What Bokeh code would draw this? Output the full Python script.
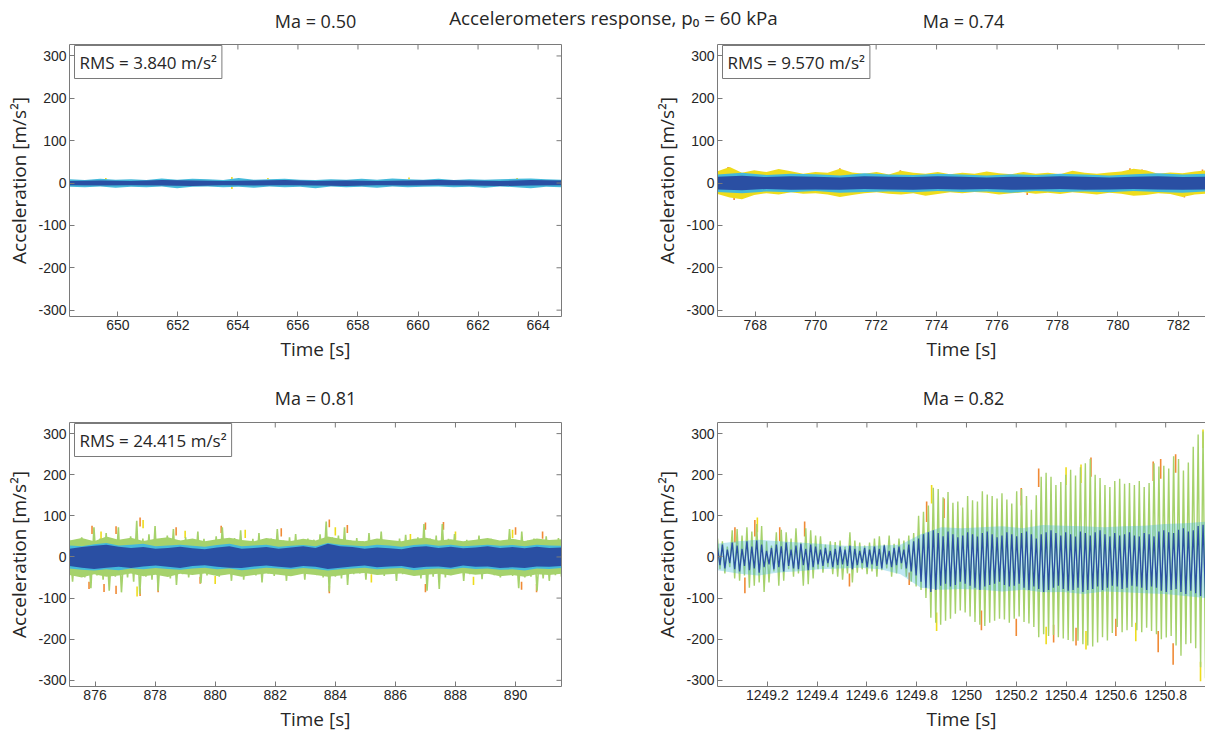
import numpy as np
from bokeh.plotting import figure
from bokeh.layouts import column, row
from bokeh.models import Range1d, LinearAxis, Label, FixedTicker
from bokeh.core.properties import value
from bokeh.embed import file_html
from bokeh.resources import INLINE

# ------------------------------------------------------------------ text
MAIN_TITLE = "Accelerometers response, p\u2080 = 60 kPa"
PANEL_TITLES = ["Ma = 0.50", "Ma = 0.74", "Ma = 0.81", "Ma = 0.82"]
RMS_TEXT = ["RMS = 3.840 m/s\u00b2", "RMS = 9.570 m/s\u00b2", "RMS = 24.415 m/s\u00b2"]
X_LABEL = "Time [s]"
Y_LABEL = "Acceleration [m/s\u00b2]"

Y_LIMITS = (-315, 327)
Y_TICKS = [-300, -200, -100, 0, 100, 200, 300]
Y_TICK_LABELS = ["-300", "-200", "-100", "0", "100", "200", "300"]

# ------------------------------------------------------------------ Ma = 0.50
T_050 = (648.39, 664.78)
X_TICKS_050 = [650, 652, 654, 656, 658, 660, 662, 664]
OUTER_HI_050 = [9, 7, 10, 8, 9, 7, 11, 8, 10, 9, 7, 12, 8, 9, 10, 8, 7, 9, 8, 10, 8, 11, 9, 8, 10, 7, 9, 8, 9, 10, 11, 9, 8]
OUTER_LO_050 = [-9, -10, -8, -11, -9, -10, -8, -12, -9, -8, -10, -9, -11, -8, -10, -9, -12, -8, -10, -9, -11, -8, -10, -9, -8, -10, -9, -11, -8, -10, -12, -9, -10]
CORE_HI_050 = [5, 6, 5, 7, 6, 5, 6, 7, 5, 6, 5, 6, 7, 6, 5, 7, 6]
CORE_LO_050 = [-5, -6, -5, -6, -7, -5, -6, -5, -6, -7, -5, -6, -5, -6, -7, -6, -5]
TIP_T_050 = [649.6, 653.8, 653.8, 655.0, 659.7, 663.3]
TIP_Y0_050 = [8, 9, -9, 9, 9, 9]
TIP_Y1_050 = [12, 14, -14, 12, 13, 12]

# ------------------------------------------------------------------ Ma = 0.74
T_074 = (766.75, 782.95)
X_TICKS_074 = [768, 770, 772, 774, 776, 778, 780, 782]
OUTER_HI_074 = [28, 38, 24, 30, 26, 33, 28, 22, 26, 24, 34, 25, 22, 26, 20, 29, 24, 22, 26, 21, 24,
                22, 27, 23, 21, 26, 22, 24, 21, 29, 24, 22, 25, 27, 34, 30, 22, 25, 23, 27, 30]
OUTER_LO_074 = [-26, -34, -38, -28, -24, -27, -22, -25, -24, -27, -33, -28, -24, -22, -25, -27, -24, -30, -26, -22, -24,
                -21, -23, -27, -24, -22, -25, -23, -26, -22, -24, -27, -23, -25, -30, -28, -24, -26, -33, -27, -25]
MID_HI_074 = [20, 24, 19, 22, 21, 18, 23, 20, 19, 22, 20, 18, 21, 19, 22, 20, 18, 21, 23, 20, 22]
MID_LO_074 = [-21, -24, -20, -22, -19, -23, -21, -20, -22, -19, -21, -20, -23, -19, -21, -20, -22, -19, -21, -23, -20]
CORE_HI_074 = [15, 17, 14, 16, 15, 13, 16, 15, 14, 16, 15, 13, 15, 14, 16, 15, 13, 15, 16, 14, 15]
CORE_LO_074 = [-15, -17, -14, -16, -15, -16, -14, -15, -16, -14, -15, -14, -16, -15, -14, -16, -15, -14, -15, -16, -15]
TIP_T_074 = [767.1, 767.3, 770.8, 772.8, 777.0, 780.4, 780.8, 782.2, 782.8]
TIP_Y0_074 = [30, -30, 28, 24, -22, 28, 26, -27, 26]
TIP_Y1_074 = [38, -40, 35, 30, -28, 35, 32, -34, 32]

# ------------------------------------------------------------------ Ma = 0.81
T_081 = (875.15, 891.53)
X_TICKS_081 = [876, 878, 880, 882, 884, 886, 888, 890]
# peak / trough of each burst of the outer channels
OUTER_HI_081 = [42, 35, 48, 40, 72, 45, 58, 40, 72, 38, 50, 88, 45, 55, 75, 42, 52, 68, 40, 48,
                36, 62, 44, 38, 50, 72, 40, 46, 65, 38, 44, 58, 36, 45, 68, 40, 48, 56, 38, 45,
                42, 55, 86, 48, 52, 72, 40, 46, 38, 58, 42, 62, 40, 36, 45, 54, 38, 48, 80, 45,
                52, 80, 44, 56, 38, 42, 36, 52, 38, 44, 35, 40, 68, 42, 62, 40, 45, 36, 50, 40, 46]
OUTER_LO_081 = [-60, -42, -50, -76, -45, -55, -82, -48, -86, -50, -60, -90, -48, -55, -82, -45, -52, -68, -42, -50,
                -40, -64, -45, -38, -48, -42, -58, -40, -55, -38, -45, -62, -40, -46, -38, -58, -42, -40, -55, -38,
                -44, -50, -84, -48, -52, -68, -42, -40, -55, -38, -42, -46, -40, -58, -42, -38, -45, -52, -82, -48,
                -78, -50, -44, -40, -58, -42, -38, -54, -40, -44, -50, -38, -46, -76, -50, -48, -82, -52, -58, -44, -48]
BASE_HI_081 = [40, 46, 38, 50, 42, 47, 39, 44, 48, 40, 45, 38, 43, 47, 41, 38, 46, 42, 39, 44, 40,
               50, 44, 40, 38, 45, 41, 38, 44, 47, 40, 43, 38, 42, 46, 40, 44, 39, 45, 41, 43]
BASE_LO_081 = [-44, -50, -42, -48, -45, -40, -47, -43, -49, -41, -44, -40, -46, -42, -48, -44, -40, -43, -47, -41, -44,
               -48, -45, -41, -39, -44, -42, -40, -46, -43, -41, -45, -39, -43, -41, -47, -44, -48, -42, -44, -41]
MID_HI_081 = [28, 26, 31, 34, 28, 30, 32, 26, 28, 30, 27, 25, 29, 32, 26, 28, 30, 25, 27, 29, 26,
              34, 30, 28, 26, 30, 28, 25, 29, 31, 27, 30, 26, 28, 30, 27, 29, 26, 30, 28, 27]
MID_LO_081 = [-28, -31, -33, -30, -32, -28, -30, -27, -29, -31, -28, -26, -30, -28, -32, -29, -26, -28, -30, -27, -29,
              -33, -30, -28, -26, -30, -28, -27, -32, -29, -28, -30, -26, -29, -28, -31, -30, -33, -28, -29, -27]
CORE_HI_081 = [20, 24, 27, 30, 25, 22, 24, 20, 22, 25, 21, 19, 23, 26, 20, 22, 24, 20, 23, 26, 22,
               32, 26, 24, 20, 23, 21, 19, 24, 26, 22, 25, 21, 23, 26, 22, 24, 21, 25, 22, 23]
CORE_LO_081 = [-22, -26, -29, -26, -24, -27, -23, -21, -24, -27, -22, -20, -24, -26, -27, -23, -21, -24, -26, -22, -24,
               -29, -26, -23, -21, -25, -23, -22, -27, -24, -23, -26, -21, -24, -23, -27, -25, -27, -23, -24, -22]
ORANGE_T_081 = [875.9, 876.7, 877.5, 878.7, 880.2, 882.2, 883.8, 884.4, 887.0, 887.6, 890.0, 890.9,
                875.8, 876.3, 876.7, 877.5, 878.1, 879.5, 883.8, 887.0, 890.2, 890.7]
ORANGE_Y0_081 = [56, 56, 74, 52, 58, 50, 72, 58, 66, 66, 54, 44, -60, -66, -70, -76, -66, -48, -70, -66, -60, -66]
ORANGE_Y1_081 = [76, 75, 96, 72, 76, 70, 91, 78, 84, 85, 72, 62, -78, -85, -90, -95, -86, -65, -88, -86, -80, -86]
YELLOW_T_081 = [876.2, 877.6, 879.0, 881.0, 884.0, 886.5, 888.0, 889.9, 877.4, 880.0, 885.2, 888.6]
YELLOW_Y0_081 = [42, 70, 46, 46, 52, 40, 42, 46, -72, -46, -42, -48]
YELLOW_Y1_081 = [62, 90, 64, 66, 72, 56, 62, 66, -96, -66, -62, -68]

# ------------------------------------------------------------------ Ma = 0.82
T_082 = (1249.0, 1250.96)
X_TICKS_082 = [1249.2, 1249.4, 1249.6, 1249.8, 1250.0, 1250.2, 1250.4, 1250.6, 1250.8]
X_TICK_LABELS_082 = ["1249.2", "1249.4", "1249.6", "1249.8", "1250", "1250.2", "1250.4", "1250.6", "1250.8"]
# one peak and one trough per oscillation cycle
GREEN_PEAK_082 = [45, 38, 25, 65, 68, 52, 72, 62, 80, 75, 38, 28, 60, 66, 60, 45, 70, 35, 70, 65,
                  52, 50, 30, 38, 36, 40, 25, 60, 40, 35, 28, 35, 45, 50, 30, 52, 32, 45, 40, 52, 58,
                  100, 110, 125, 168, 165, 145, 158, 132, 135, 120, 148, 138, 135, 160, 152, 148, 142, 155, 140, 130,
                  160, 165, 148, 115, 150, 195, 205, 195, 175, 182, 200, 212, 198, 218, 228, 238, 200, 192, 175, 170,
                  185, 190, 178, 180, 175, 185, 170, 180, 228, 220, 222, 215, 245, 238, 210, 230, 268, 298, 305]
GREEN_TROUGH_082 = [-30, -40, -25, -52, -58, -45, -75, -70, -62, -85, -62, -35, -70, -58, -30, -48, -40, -70, -66, -52,
                    -30, -38, -25, -42, -48, -55, -40, -62, -38, -30, -42, -35, -48, -32, -28, -48, -40, -30, -48, -60, -72,
                    -80, -100, -148, -160, -165, -155, -150, -138, -130, -135, -145, -158, -165, -168, -160, -155, -150, -152, -160, -150,
                    -145, -158, -162, -170, -195, -188, -192, -190, -195, -198, -202, -205, -204, -212, -215, -218, -208, -195, -203, -185,
                    -170, -183, -178, -170, -178, -183, -172, -180, -188, -200, -196, -192, -215, -240, -212, -210, -222, -268, -295]
BLUE_PEAK_082 = [22, 30, 18, 35, 28, 20, 38, 25, 40, 30, 15, 22, 30, 26, 35, 18, 28, 32, 20, 30,
                 25, 18, 22, 15, 20, 25, 18, 28, 20, 15, 22, 18, 25, 20, 28, 15, 22, 25, 18, 30, 38,
                 45, 55, 60, 65, 58, 50, 62, 55, 48, 52, 60, 55, 50, 58, 62, 55, 48, 52, 60, 55,
                 50, 58, 62, 55, 45, 55, 60, 65, 58, 52, 60, 55, 50, 62, 58, 52, 60, 65, 55, 50,
                 58, 52, 55, 60, 52, 50, 58, 55, 50, 62, 65, 60, 58, 66, 70, 62, 65, 75, 78]
BLUE_TROUGH_082 = [-20, -28, -15, -30, -35, -22, -32, -28, -38, -25, -18, -30, -25, -35, -22, -28, -30, -20, -32, -25,
                   -18, -22, -15, -25, -20, -18, -22, -30, -20, -15, -25, -18, -22, -28, -18, -25, -20, -15, -28, -35, -45,
                   -60, -75, -85, -80, -70, -65, -72, -68, -60, -65, -70, -75, -80, -72, -68, -65, -60, -68, -72, -70,
                   -65, -75, -80, -72, -78, -85, -80, -75, -70, -78, -82, -80, -75, -85, -80, -78, -72, -80, -75, -70,
                   -72, -78, -75, -70, -72, -75, -80, -72, -75, -82, -85, -80, -78, -85, -90, -82, -88, -95, -100]
MID_HI_082 = [32, 38, 42, 38, 35, 32, 28, 26, 28, 30, 55, 72, 70, 72, 75, 70, 78, 76, 75, 72, 75, 76, 80, 82, 86]
MID_LO_082 = [-32, -40, -45, -38, -35, -30, -28, -26, -30, -42, -75, -80, -78, -80, -84, -80, -86, -85, -90, -84,
              -86, -88, -90, -95, -100]
ORANGE_T_082 = [1249.07, 1249.15, 1249.25, 1249.35, 1249.84, 1249.91, 1250.22, 1250.29, 1250.50, 1250.75, 1250.78,
                1250.84, 1249.11, 1249.53, 1249.77, 1250.06, 1250.20, 1250.35, 1250.44, 1250.60, 1250.77, 1250.83]
ORANGE_Y0_082 = [35, 50, 38, 50, 85, 95, 125, 170, 195, 185, 190, 205, -50, -40, -38, -130, -150, -165, -172, -150, -180, -210]
ORANGE_Y1_082 = [72, 90, 72, 86, 135, 142, 168, 215, 242, 232, 238, 250, -88, -72, -68, -178, -192, -208, -215, -192, -232, -262]
YELLOW_T_082 = [1249.16, 1249.86, 1250.40, 1250.46, 1250.95, 1249.88, 1250.32, 1250.48, 1250.68, 1250.94]
YELLOW_Y0_082 = [60, 130, 175, 180, 265, -135, -170, -180, -160, -255]
YELLOW_Y1_082 = [96, 175, 218, 225, 310, -180, -212, -225, -205, -302]

# ------------------------------------------------------------------ style
ORANGE = "#F08A36"
YELLOW = "#EEDC1C"
GREEN = "#A6D26C"
CYAN = "#44B9DA"
BLUE = "#2A4FA3"
FRAME = "#7a7a7a"
INK = "#262626"
LABEL_FONT = "Open Sans"
TICK_FONT = "Liberation Sans"


def grid_times(window, n):
    return np.linspace(window[0], window[1], n)


def style_axis(ax):
    ax.axis_line_color = FRAME
    ax.major_tick_line_color = FRAME
    ax.major_tick_in = 5
    ax.major_tick_out = 0
    ax.minor_tick_line_color = None
    ax.major_label_text_font = TICK_FONT
    ax.major_label_text_font_size = "14px"
    ax.major_label_text_color = INK
    ax.major_label_standoff = 3
    ax.axis_label_text_font = LABEL_FONT
    ax.axis_label_text_font_size = "19px"
    ax.axis_label_text_font_style = "normal"
    ax.axis_label_text_color = INK
    ax.axis_label_standoff = 3


def frame_edge(p, side):
    # plain box edge without ticks or labels
    edge = LinearAxis(ticker=FixedTicker(ticks=[]))
    edge.axis_line_color = FRAME
    edge.major_tick_line_color = None
    edge.minor_tick_line_color = None
    p.add_layout(edge, side)


def panel(width, height, window, xticks, xtick_labels, border, closed_right):
    left, right, top, bottom = border
    p = figure(width=width, height=height, x_range=Range1d(*window), y_range=Range1d(*Y_LIMITS),
               output_backend="svg", toolbar_location=None, title=None,
               min_border_left=left, min_border_right=right, min_border_top=top, min_border_bottom=bottom,
               outline_line_color=None, x_axis_label=X_LABEL, y_axis_label=Y_LABEL)
    p.grid.visible = False
    xa, ya = p.xaxis[0], p.yaxis[0]
    xa.ticker = FixedTicker(ticks=xticks)
    xa.major_label_overrides = dict(zip(xticks, xtick_labels))
    ya.ticker = FixedTicker(ticks=Y_TICKS)
    ya.major_label_overrides = dict(zip(Y_TICKS, Y_TICK_LABELS))
    style_axis(xa)
    style_axis(ya)
    frame_edge(p, "above")
    if closed_right:
        frame_edge(p, "right")
    return p


def inner_ticks(p, window, xticks, closed_right):
    # inward tick marks on the upper (and right) box edge; the frame clips the outer half
    p.scatter(x=xticks, y=[Y_LIMITS[1]] * len(xticks), marker="dash", angle=np.pi / 2,
              size=10, line_color=FRAME, line_width=1)
    if closed_right:
        p.scatter(x=[window[1]] * len(Y_TICKS), y=Y_TICKS, marker="dash",
                  size=10, line_color=FRAME, line_width=1)


def band(p, window, hi, lo, color, alpha=1.0):
    t = grid_times(window, len(hi))
    p.varea(x=t, y1=lo, y2=hi, fill_color=color, fill_alpha=alpha)


def tips(p, t, y0, y1, color):
    p.segment(x0=t, y0=y0, x1=t, y1=y1, line_color=color, line_width=1.6)


def cycles(p, window, peaks, troughs, color, width, alpha=1.0):
    vals = np.empty(2 * len(peaks))
    vals[0::2] = peaks
    vals[1::2] = troughs
    t = grid_times(window, len(vals))
    p.line(x=t, y=vals, line_color=color, line_width=width, line_alpha=alpha)


def rms_box(p, window, text):
    p.add_layout(Label(x=window[0], y=Y_LIMITS[1], x_offset=5, y_offset=-1, text=text,
                       text_font=LABEL_FONT, text_font_size="17px", text_color=INK,
                       text_align="left", text_baseline="top",
                       background_fill_color="white", border_line_color=FRAME,
                       border_line_width=1, padding=5))


def title_strip(height):
    s = figure(width=1205, height=height, x_range=Range1d(0, 1205), y_range=Range1d(0, height),
               output_backend="svg", toolbar_location=None, title=None, min_border=0,
               outline_line_color=None, x_axis_type=None, y_axis_type=None)
    s.grid.visible = False
    return s


def put_text(s, xs, ys, texts, size):
    s.text(x=xs, y=ys, text=texts, text_align="center", text_baseline="middle",
           text_font=value(LABEL_FONT), text_font_size=size, text_color=INK)


def as_labels(ticks):
    return [str(v) for v in ticks]


# --- Ma = 0.50
W050 = (648.39, 664.78)
p050 = panel(640, 342, W050, X_TICKS_050, as_labels(X_TICKS_050), (69, 79, 8, 62), True)
tips(p050, TIP_T_050, TIP_Y0_050, TIP_Y1_050, YELLOW)
band(p050, T_050, OUTER_HI_050, OUTER_LO_050, CYAN)
band(p050, T_050, CORE_HI_050, CORE_LO_050, BLUE)
inner_ticks(p050, W050, X_TICKS_050, True)
rms_box(p050, W050, RMS_TEXT[0])

# --- Ma = 0.74
W074 = (766.75, 782.9)
p074 = panel(565, 342, W074, X_TICKS_074, as_labels(X_TICKS_074), (77, 0, 8, 62), False)
tips(p074, TIP_T_074, TIP_Y0_074, TIP_Y1_074, ORANGE)
band(p074, T_074, OUTER_HI_074, OUTER_LO_074, YELLOW)
band(p074, T_074, MID_HI_074, MID_LO_074, CYAN)
band(p074, T_074, CORE_HI_074, CORE_LO_074, BLUE)
inner_ticks(p074, W074, X_TICKS_074, False)
rms_box(p074, W074, RMS_TEXT[1])

# --- Ma = 0.81
W081 = (875.15, 891.53)
p081 = panel(640, 324, W081, X_TICKS_081, as_labels(X_TICKS_081), (69, 79, 12, 40), True)
tips(p081, ORANGE_T_081, ORANGE_Y0_081, ORANGE_Y1_081, ORANGE)
tips(p081, YELLOW_T_081, YELLOW_Y0_081, YELLOW_Y1_081, YELLOW)
cycles(p081, T_081, OUTER_HI_081, OUTER_LO_081, GREEN, 1.6)
band(p081, T_081, BASE_HI_081, BASE_LO_081, GREEN)
band(p081, T_081, MID_HI_081, MID_LO_081, CYAN)
band(p081, T_081, CORE_HI_081, CORE_LO_081, BLUE)
inner_ticks(p081, W081, X_TICKS_081, True)
rms_box(p081, W081, RMS_TEXT[2])

# --- Ma = 0.82
W082 = (1249.0, 1250.96)
p082 = panel(565, 324, W082, X_TICKS_082, X_TICK_LABELS_082, (77, 0, 12, 40), False)
tips(p082, ORANGE_T_082, ORANGE_Y0_082, ORANGE_Y1_082, ORANGE)
tips(p082, YELLOW_T_082, YELLOW_Y0_082, YELLOW_Y1_082, YELLOW)
cycles(p082, T_082, GREEN_PEAK_082, GREEN_TROUGH_082, GREEN, 1.4)
band(p082, T_082, MID_HI_082, MID_LO_082, CYAN, 0.35)
cycles(p082, T_082, BLUE_PEAK_082, BLUE_TROUGH_082, BLUE, 1.3)
inner_ticks(p082, W082, X_TICKS_082, False)

# --- titles above the panels
head = title_strip(36)
put_text(head, [315, 963], [16, 16], [PANEL_TITLES[0], PANEL_TITLES[1]], "18px")
put_text(head, [613], [19], [MAIN_TITLE], "18.8px")
mid = title_strip(32)
put_text(mid, [315, 963], [13, 13], [PANEL_TITLES[2], PANEL_TITLES[3]], "18px")

layout = column(head, row(p050, p074), mid, row(p081, p082))
open("out.html", "w").write(file_html(layout, INLINE))
